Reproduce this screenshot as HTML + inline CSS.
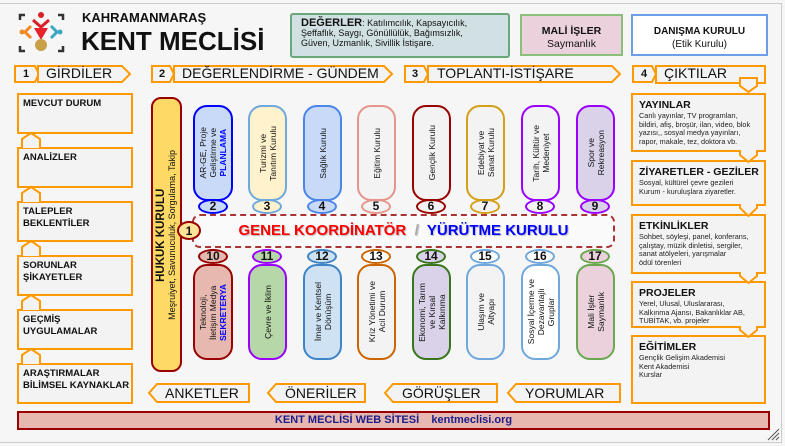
<!DOCTYPE html>
<html><head><meta charset="utf-8">
<style>
*{margin:0;padding:0;box-sizing:border-box}
body{width:785px;height:446px;background:#f6f6f6;font-family:"Liberation Sans",sans-serif;position:relative;overflow:hidden;color:#111}
.a{position:absolute}
.box{position:absolute;background:#f3f3f3;border:2px solid #ff9900}
.lb{font-size:9.5px;font-weight:bold;padding:3px 0 0 4px;line-height:12px;white-space:nowrap}
.rb{font-size:7.3px;line-height:8.7px;padding:4px 0 0 6px;color:#222;white-space:nowrap}
.rb b{font-size:10.5px;display:block;line-height:13px;color:#111}
.pill{position:absolute;border:2px solid;border-radius:14px;display:flex;align-items:center;justify-content:center;overflow:hidden}
.vt{writing-mode:vertical-rl;transform:rotate(180deg);font-size:8.5px;line-height:10px;text-align:center;color:#111}
.num{position:absolute;border:2px solid;border-radius:50%;font-size:12px;font-weight:bold;text-align:center;line-height:11px;height:15px;width:30px}
.hd{font-size:14px;position:absolute;line-height:17px}
.hn{position:absolute;font-size:11px;font-weight:bold;width:20px;text-align:center;top:68px}
</style></head><body>
<div class="a" style="left:0;top:3px;width:782px;height:440px;border-top:1px solid #ccc;border-right:1px solid #ccc;border-bottom:1px solid #ccc"></div>

<svg class="a" style="left:0;top:0" width="785" height="446">
<g fill="none" stroke="#333" stroke-width="2.5">
<path d="M20 20 V15 H25"/><path d="M58 15 H63 V20"/><path d="M20 46 V51 H25"/><path d="M58 51 H63 V46"/></g>
<circle cx="41" cy="15" r="3" fill="#d81f26"/>
<path d="M33 20 L41 27 L49 20" stroke="#d81f26" stroke-width="3" fill="none"/>
<path d="M34 28 H48 L41 40 Z" fill="#e8212a"/>
<circle cx="41" cy="45" r="6" fill="#c9a048"/>
<path d="M31 26 L25 32 L31 38" stroke="#f08a24" stroke-width="3" fill="none"/><circle cx="22" cy="32" r="2.5" fill="#f08a24"/>
<path d="M51 26 L57 32 L51 38" stroke="#3aa8c1" stroke-width="3" fill="none"/><circle cx="60" cy="32" r="2.5" fill="#3aa8c1"/>
<g fill="#f3f3f3" stroke="#ff9900" stroke-width="2">
<path d="M15 66 H35 L39 74 L35 82 H15 Z"/>
<path d="M38 66 H122 L130 74 L122 82 H38 Z"/>
<path d="M152 66 H170 L174 74 L170 82 H152 Z"/>
<path d="M174 66 H384 L392 74 L384 82 H174 Z"/>
<path d="M405 66 H424 L428 74 L424 82 H405 Z"/>
<path d="M428 66 H612 L620 74 L612 82 H428 Z"/>
<path d="M633 66 H652 L656 74 L652 82 H633 Z"/>
<path d="M656 66 H765 V83 H656 Z"/>
<path d="M740 78 H757 V86 L748.5 92 L740 86 Z"/>
<path d="M157 384 H249 V402 H157 L149 393 Z"/>
<path d="M276 384 H365 V402 H276 L268 393 Z"/>
<path d="M393 384 H497 V402 H393 L385 393 Z"/>
<path d="M516 384 H620 V402 H516 L508 393 Z"/>
</g>
</svg>

<div class="a" style="left:82px;top:10px;font-size:13px;font-weight:bold">KAHRAMANMARAŞ</div>
<div class="a" style="left:81px;top:26px;font-size:26px;font-weight:bold">KENT MECLİSİ</div>

<div class="a" style="left:290px;top:13px;width:220px;height:45px;background:#d0e0e3;border:2px solid #6aa87a;border-radius:3px;font-size:9px;line-height:10px;padding:3px 0 0 9px"><span style="font-size:11px;font-weight:bold">DEĞERLER</span>: Katılımcılık,  Kapsayıcılık,<br>Şeffaflık, Saygı, Gönüllülük, Bağımsızlık,<br>Güven, Uzmanlık, Sivillik İstişare.</div>
<div class="a" style="left:520px;top:14px;width:103px;height:42px;background:#ead1dc;border:2px solid #8bc07b;font-size:10.5px;text-align:center;padding-top:9px;line-height:13px"><b>MALİ İŞLER</b><br>Saymanlık</div>
<div class="a" style="left:631px;top:14px;width:137px;height:42px;background:#fff;border:2px solid #6d9eeb;font-size:10px;text-align:center;padding-top:9px;line-height:13px"><b>DANIŞMA KURULU</b><br>(Etik Kurulu)</div>

<div class="hn" style="left:16px">1</div>
<div class="hd" style="left:46px;top:65px">GİRDİLER</div>
<div class="hn" style="left:152px">2</div>
<div class="hd" style="left:182px;top:65px">DEĞERLENDİRME - GÜNDEM</div>
<div class="hn" style="left:405px">3</div>
<div class="hd" style="left:437px;top:65px">TOPLANTI-İSTİŞARE</div>
<div class="hn" style="left:634px">4</div>
<div class="hd" style="left:664px;top:65px">ÇIKTILAR</div>

<div class="box lb" style="left:17px;top:93px;width:116px;height:41px">MEVCUT DURUM</div>
<div class="box lb" style="left:17px;top:147px;width:116px;height:41px">ANALİZLER</div>
<div class="box lb" style="left:17px;top:201px;width:116px;height:41px">TALEPLER<br>BEKLENTİLER</div>
<div class="box lb" style="left:17px;top:255px;width:116px;height:41px">SORUNLAR<br>ŞİKAYETLER</div>
<div class="box lb" style="left:17px;top:309px;width:116px;height:41px">GEÇMİŞ<br>UYGULAMALAR</div>
<div class="box lb" style="left:17px;top:363px;width:116px;height:41px">ARAŞTIRMALAR<br>BİLİMSEL KAYNAKLAR</div>
<svg class="a" style="left:0;top:0" width="140" height="446"><g fill="#f3f3f3" stroke="#ff9900" stroke-width="2">
<path d="M22 148 V139 L31 133 L40 139 V148"/><path d="M22 202 V193 L31 187 L40 193 V202"/><path d="M22 256 V247 L31 241 L40 247 V256"/><path d="M22 310 V301 L31 295 L40 301 V310"/><path d="M22 364 V355 L31 349 L40 355 V364"/></g></svg>

<div class="a" style="left:151px;top:97px;width:31px;height:275px;background:#ffd966;border:2px solid #990000;border-radius:10px;display:flex;align-items:center;justify-content:center">
<div class="vt" style="font-size:9px;line-height:11px"><b style="font-size:11.5px">HUKUK KURULU</b><br>Meşruiyet, Savunuculuk, Sorgulama, Takip</div></div>

<div class="a" style="left:192px;top:214px;width:423px;height:34px;border:2px dashed #a33;border-radius:8px;background:#fafafa;text-align:center;font-size:15px;font-weight:bold;line-height:30px;text-shadow:1px 1px 1px #bbb"><span style="color:#f00">GENEL KOORDİNATÖR</span> <span style="color:#aaa">&nbsp;/&nbsp;</span>  <span style="color:#00f">YÜRÜTME KURULU</span></div>
<div class="num" style="left:177px;top:221px;width:24px;height:19px;line-height:16px;background:#ffe599;border-color:#990000">1</div>

<div class="pill" style="left:193px;top:105px;width:40px;height:96px;background:#c9daf8;border-color:#00f"><div class="vt">AR-GE, Proje<br>Geliştirme ve<br><b style="color:#00f">PLANLAMA</b></div></div>
<div class="pill" style="left:248px;top:105px;width:39px;height:96px;background:#fff2cc;border-color:#6fa8dc"><div class="vt">Turizmi ve<br>Tanıtım Kurulu</div></div>
<div class="pill" style="left:303px;top:105px;width:39px;height:96px;background:#c9daf8;border-color:#4a86e8"><div class="vt">Sağlık Kurulu</div></div>
<div class="pill" style="left:357px;top:105px;width:39px;height:96px;background:#f3f3f3;border-color:#e6958a"><div class="vt">Eğitim Kurulu</div></div>
<div class="pill" style="left:412px;top:105px;width:39px;height:96px;background:#f3f3f3;border-color:#990000"><div class="vt">Gençlik Kurulu</div></div>
<div class="pill" style="left:466px;top:105px;width:39px;height:96px;background:#f3f3f3;border-color:#d4a017"><div class="vt">Edebiyat ve<br>Sanat Kurulu</div></div>
<div class="pill" style="left:521px;top:105px;width:39px;height:96px;background:#f3f3f3;border-color:#9900ff"><div class="vt">Tarih, Kültür ve<br>Medeniyet</div></div>
<div class="pill" style="left:576px;top:105px;width:39px;height:96px;background:#d9d2e9;border-color:#9900ff"><div class="vt">Spor ve<br>Rekreasyon</div></div>

<div class="num" style="left:198px;top:199px;background:#c9daf8;border-color:#00f">2</div>
<div class="num" style="left:252px;top:199px;background:#fff2cc;border-color:#6fa8dc">3</div>
<div class="num" style="left:307px;top:199px;background:#c9daf8;border-color:#4a86e8">4</div>
<div class="num" style="left:361px;top:199px;background:#f3f3f3;border-color:#e6958a">5</div>
<div class="num" style="left:416px;top:199px;background:#f3f3f3;border-color:#990000">6</div>
<div class="num" style="left:470px;top:199px;background:#f3f3f3;border-color:#d4a017">7</div>
<div class="num" style="left:525px;top:199px;background:#f3f3f3;border-color:#9900ff">8</div>
<div class="num" style="left:580px;top:199px;background:#d9d2e9;border-color:#9900ff">9</div>

<div class="pill" style="left:193px;top:264px;width:40px;height:96px;background:#e6b8af;border-color:#990000"><div class="vt">Teknoloji,<br>İletişim Medya<br><b style="color:#00f">SEKRETERYA</b></div></div>
<div class="pill" style="left:248px;top:264px;width:39px;height:96px;background:#b6d7a8;border-color:#9900ff"><div class="vt">Çevre ve İklim</div></div>
<div class="pill" style="left:303px;top:264px;width:39px;height:96px;background:#cfe2f3;border-color:#3d85c6"><div class="vt">İmar ve Kentsel<br>Dönüşüm</div></div>
<div class="pill" style="left:357px;top:264px;width:39px;height:96px;background:#f3f3f3;border-color:#cc6600"><div class="vt">Kriz Yönetimi ve<br>Acil Durum</div></div>
<div class="pill" style="left:412px;top:264px;width:39px;height:96px;background:#d9d2e9;border-color:#38761d"><div class="vt">Ekonomi, Tarım<br>ve Kırsal<br>Kalkınma</div></div>
<div class="pill" style="left:466px;top:264px;width:39px;height:96px;background:#f3f3f3;border-color:#6fa8dc"><div class="vt">Ulaşım ve<br>Altyapı</div></div>
<div class="pill" style="left:521px;top:264px;width:39px;height:96px;background:#fff;border-color:#6fa8dc"><div class="vt">Sosyal İçerme ve<br>Dezavantajlı<br>Gruplar</div></div>
<div class="pill" style="left:576px;top:264px;width:39px;height:96px;background:#ead1dc;border-color:#6aa84f"><div class="vt">Mali İşler<br>Saymanlık</div></div>

<div class="num" style="left:198px;top:249px;background:#e6b8af;border-color:#990000">10</div>
<div class="num" style="left:252px;top:249px;background:#b6d7a8;border-color:#9900ff">11</div>
<div class="num" style="left:307px;top:249px;background:#cfe2f3;border-color:#3d85c6">12</div>
<div class="num" style="left:361px;top:249px;background:#fff;border-color:#cc6600">13</div>
<div class="num" style="left:416px;top:249px;background:#d9d2e9;border-color:#38761d">14</div>
<div class="num" style="left:470px;top:249px;background:#fff;border-color:#6fa8dc">15</div>
<div class="num" style="left:525px;top:249px;background:#fff;border-color:#6fa8dc">16</div>
<div class="num" style="left:580px;top:249px;background:#ead1dc;border-color:#6aa84f">17</div>

<div class="hd" style="left:165px;top:385px">ANKETLER</div>
<div class="hd" style="left:285px;top:385px">ÖNERİLER</div>
<div class="hd" style="left:402px;top:385px">GÖRÜŞLER</div>
<div class="hd" style="left:525px;top:385px">YORUMLAR</div>

<div class="box rb" style="left:631px;top:93px;width:135px;height:59px"><b>YAYINLAR</b>Canlı yayınlar, TV programları,<br>bildiri, afiş, broşür, ilan, video, blok<br>yazısı,, sosyal medya yayınları,<br>rapor, makale, tez, doktora vb.</div>
<div class="box rb" style="left:631px;top:160px;width:135px;height:46px"><b>ZİYARETLER - GEZİLER</b>Sosyal, kültürel çevre gezileri<br>Kurum - kuruluşlara ziyaretler.</div>
<div class="box rb" style="left:631px;top:214px;width:135px;height:60px"><b>ETKİNLİKLER</b>Sohbet, söyleşi, panel, konferans,<br>çalıştay, müzik dinletisi, sergiler,<br>sanat atölyeleri,  yarışmalar<br>ödül törenleri</div>
<div class="box rb" style="left:631px;top:281px;width:135px;height:47px"><b>PROJELER</b>Yerel, Ulusal, Uluslararası,<br>Kalkınma Ajansı, Bakanlıklar AB,<br>TUBİTAK, vb. projeler</div>
<div class="box rb" style="left:631px;top:335px;width:135px;height:69px"><b>EĞİTİMLER</b>Gençlik Gelişim Akademisi<br>Kent Akademisi<br>Kurslar</div>
<svg class="a" style="left:0;top:0" width="785" height="446"><g fill="#f3f3f3" stroke="#ff9900" stroke-width="2">
<path d="M740 150 V155 L748.5 162 L757 155 V150"/><path d="M740 204 V208 L748.5 216 L757 208 V204"/><path d="M740 272 V276 L748.5 283 L757 276 V272"/><path d="M740 326 V330 L748.5 337 L757 330 V326"/></g>
<g stroke="#555" stroke-width="1"><path d="M768 440 L779 429 M772 440 L779 433 M776 440 L779 437"/></g></svg>

<div class="a" style="left:17px;top:411px;width:753px;height:19px;background:#e6b8af;border:2px solid #990000;text-align:center;font-size:11px;font-weight:bold;color:#1c1c8c;line-height:15px">KENT MECLİSİ WEB SİTESİ &nbsp;&nbsp; kentmeclisi.org</div>
</body></html>
